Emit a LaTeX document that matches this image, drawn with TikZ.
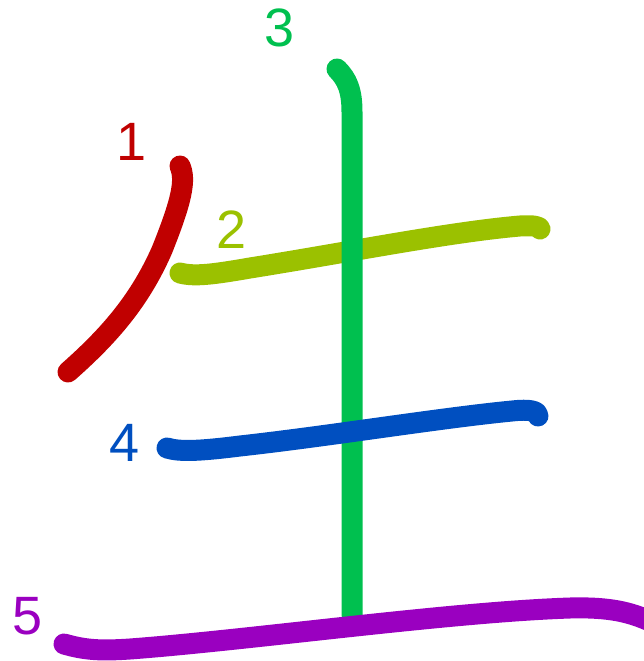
\documentclass[tikz,border=0pt]{standalone}
\usepackage{fontspec}
\setmainfont{Liberation Sans}
\definecolor{cone}{HTML}{C00000}
\definecolor{ctwo}{HTML}{9BC100}
\definecolor{cthree}{HTML}{00C04F}
\definecolor{cfour}{HTML}{004FC0}
\definecolor{cfive}{HTML}{9A00C0}
\begin{document}
\begin{tikzpicture}[x=1pt,y=-1pt,
  strokeline/.style={line width=21pt,line cap=round,line join=round},
  numlabel/.style={inner sep=0pt,anchor=center,font=\fontsize{54}{54}\selectfont}]
\useasboundingbox (0,0) rectangle (643,661);
% stroke 1
\draw[strokeline,cone] (180,166) .. controls (186,180) and (182,200) .. (162,250)
  .. controls (140,300) and (110,335) .. (68,372);
% stroke 2
\draw[strokeline,ctwo] (180,273) .. controls (195,277) and (215,274) .. (250,268)
  .. controls (350,252) and (450,232) .. (520,226)
  .. controls (535,225) and (540,227) .. (540,229);
% stroke 3
\draw[strokeline,cthree] (337,69) .. controls (347,79) and (352,90) .. (352,112) -- (352,615);
% stroke 4
\draw[strokeline,cfour] (167,448) .. controls (180,452) and (200,451) .. (240,446)
  .. controls (330,436) and (440,418) .. (512,411)
  .. controls (530,409) and (538,411) .. (538,416);
% stroke 5
\draw[strokeline,cfive] (64,644) .. controls (85,650) and (100,651) .. (130,649)
  .. controls (250,640) and (450,612) .. (570,608)
  .. controls (610,607) and (630,612) .. (652,622);
% labels
\node[numlabel,text=cone] (n1) at (132,142) {1};
\node[numlabel,text=ctwo] (n2) at (232,230) {2};
\node[numlabel,text=cthree] (n3) at (280,28) {3};
\node[numlabel,text=cfour] (n4) at (125,443) {4};
\node[numlabel,text=cfive] (n5) at (28,616) {5};
\end{tikzpicture}
\end{document}
